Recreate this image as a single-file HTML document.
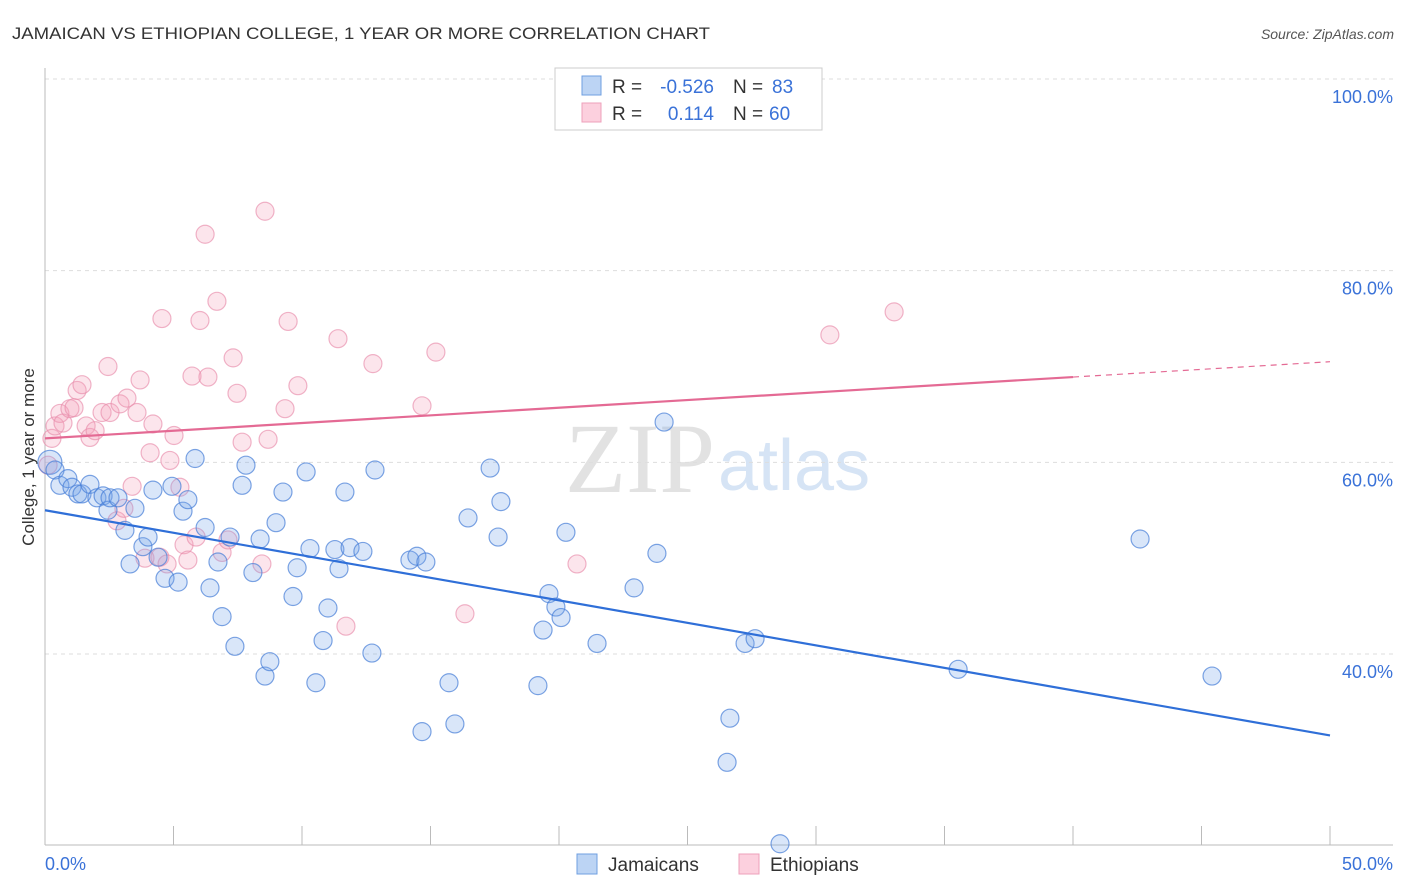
<!DOCTYPE html>
<html><head><meta charset="utf-8"><style>
body{margin:0;background:#fff;font-family:"Liberation Sans",sans-serif}
svg{display:block}
</style></head><body>
<svg id="chart" width="1406" height="892">
<text x="12" y="39" font-size="17" fill="#333" textLength="698" lengthAdjust="spacingAndGlyphs">JAMAICAN VS ETHIOPIAN COLLEGE, 1 YEAR OR MORE CORRELATION CHART</text>
<text x="1394" y="39" font-size="14" fill="#555" font-style="italic" text-anchor="end">Source: ZipAtlas.com</text>
<text x="715" y="492" font-size="100" fill="#e2e2e2" text-anchor="end" font-family="Liberation Serif,serif">ZIP</text>
<text x="718" y="490" font-size="72" fill="#d6e4f5">atlas</text>
<text transform="translate(34,457) rotate(-90)" font-size="17" fill="#333" text-anchor="middle">College, 1 year or more</text>
<g id="grid"></g><g id="pts"></g><g id="lines"></g>
<g>
<rect x="555" y="68" width="267" height="62" fill="#fff" stroke="#ccc"/>
<rect x="582" y="76" width="19" height="19" fill="#bcd4f4" stroke="#6f9fe0"/>
<rect x="582" y="103" width="19" height="19" fill="#fcd0de" stroke="#eea0bb"/>
<text x="612" y="93" font-size="19" fill="#333">R =</text>
<text x="714" y="93" font-size="19" fill="#3a72d8" text-anchor="end">-0.526</text>
<text x="733" y="93" font-size="19" fill="#333">N =</text>
<text x="772" y="93" font-size="19" fill="#3a72d8">83</text>
<text x="612" y="120" font-size="19" fill="#333">R =</text>
<text x="714" y="120" font-size="19" fill="#3a72d8" text-anchor="end">0.114</text>
<text x="733" y="120" font-size="19" fill="#333">N =</text>
<text x="769" y="120" font-size="19" fill="#3a72d8">60</text>
</g>
<g>
<rect x="577" y="854" width="20" height="20" fill="#bcd4f4" stroke="#6f9fe0"/>
<text x="608" y="871" font-size="19" fill="#333">Jamaicans</text>
<rect x="739" y="854" width="20" height="20" fill="#fcd0de" stroke="#eea0bb"/>
<text x="770" y="871" font-size="19" fill="#333">Ethiopians</text>
</g>
</svg>
<script>
const yTicks=[40,60,80,100];
const yTickLabels=["40.0%","60.0%","80.0%","100.0%"];
const xTickLabels=["0.0%","50.0%"];
const blueX=[0.19,0.39,0.58,0.89,1.05,1.28,1.44,1.75,2.02,2.26,2.45,2.53,2.84,3.11,3.31,3.50,3.81,4.01,4.20,4.40,4.67,4.94,5.18,5.37,5.56,5.84,6.23,6.42,6.73,6.89,7.20,7.39,7.67,7.82,8.09,8.37,8.56,8.75,8.99,9.26,9.65,9.81,10.16,10.31,10.54,10.82,11.01,11.28,11.44,11.67,11.87,12.37,12.72,12.84,14.20,14.47,14.67,14.82,15.72,15.95,16.46,17.32,17.63,17.74,19.18,19.38,19.61,19.88,20.08,20.27,21.48,22.92,23.81,24.09,26.54,26.65,27.24,27.63,28.60,35.53,42.61,45.41];
const blueY=[60.0,59.2,57.6,58.3,57.4,56.7,56.7,57.7,56.3,56.5,55.0,56.3,56.3,52.9,49.4,55.2,51.2,52.2,57.1,50.1,47.9,57.5,47.5,54.9,56.1,60.4,53.2,46.9,49.6,43.9,52.2,40.8,57.6,59.7,48.5,52.0,37.7,39.2,53.7,56.9,46.0,49.0,59.0,51.0,37.0,41.4,44.8,50.9,48.9,56.9,51.1,50.7,40.1,59.2,49.8,50.2,31.9,49.6,37.0,32.7,54.2,59.4,52.2,55.9,36.7,42.5,46.3,44.9,43.8,52.7,41.1,46.9,50.5,64.2,28.7,33.3,41.1,41.6,20.2,38.4,52.0,37.7];
const pinkX=[0.12,0.27,0.39,0.58,0.70,0.97,1.13,1.25,1.44,1.60,1.75,1.95,2.22,2.45,2.53,2.80,2.92,3.07,3.19,3.39,3.58,3.70,3.89,4.09,4.20,4.47,4.55,4.75,4.86,5.02,5.25,5.41,5.56,5.72,5.88,6.03,6.23,6.34,6.69,6.89,7.12,7.32,7.47,7.67,8.44,8.56,8.68,9.34,9.46,9.84,11.40,11.71,12.76,14.67,15.21,16.34,20.70,30.54,33.04];
const pinkY=[59.7,62.5,63.8,65.1,64.1,65.6,65.7,67.5,68.1,63.8,62.6,63.3,65.2,70.0,65.2,53.9,66.1,55.2,66.7,57.5,65.2,68.6,50.0,61.0,64.0,50.1,75.0,49.4,60.2,62.8,57.4,51.4,49.8,69.0,52.2,74.8,83.8,68.9,76.8,50.6,51.9,70.9,67.2,62.1,49.4,86.2,62.4,65.6,74.7,68.0,72.9,42.9,70.3,65.9,71.5,44.2,49.4,73.3,75.7];
const blueTrend=[55.0,31.5];
const pinkTrend=[62.5,70.5];
const NS="http://www.w3.org/2000/svg";
const L=45,R=1330,X0=0,X1=50;
const sx=v=>L+(v-X0)/(X1-X0)*(R-L);
const sy=v=>654-(v-40)*(575/60);
function mk(tag,attrs,parent){const e=document.createElementNS(NS,tag);for(const k in attrs)e.setAttribute(k,attrs[k]);parent.appendChild(e);return e;}
const grid=document.getElementById('grid');
yTicks.forEach((t,i)=>{
  const g=mk('line',{x1:L,x2:1393,y1:sy(t),y2:sy(t),stroke:'#ddd','stroke-dasharray':'4,4'},grid);
  
  
  const tx=mk('text',{x:1393,y:sy(t)+24,'font-size':18,fill:'#3a72d8','text-anchor':'end'},grid);
  tx.textContent=yTickLabels[i];
  
  
});
const ax=mk('line',{x1:L,x2:1393,y1:845,y2:845,stroke:'#bbb'},grid);


const ay=mk('line',{x1:L,x2:L,y1:68,y2:845,stroke:'#bbb'},grid);


for(let i=0;i<=10;i++){const v=i*5;
  const t=mk('line',{x1:sx(v),x2:sx(v),y1:826,y2:845,stroke:'#bbb'},grid);
  
  
}
[[0,'start'],[50,'end']].forEach((p,i)=>{
  const t=mk('text',{x:sx(p[0])+(i?63:0),y:870,'font-size':18,fill:'#3a72d8','text-anchor':p[1]},grid);
  t.textContent=xTickLabels[i];
  
  
});
const pts=document.getElementById('pts');
pinkX.forEach((x,i)=>{
  const c=mk('circle',{cx:sx(x),cy:sy(pinkY[i]),r:9,fill:'rgba(244,160,188,0.28)',stroke:'rgba(232,140,170,0.65)','stroke-width':1.2},pts);
  
  
});
blueX.forEach((x,i)=>{
  const c=mk('circle',{cx:sx(x),cy:sy(blueY[i]),r:i==0?12:9,fill:'rgba(120,165,235,0.28)',stroke:'rgba(70,125,215,0.7)','stroke-width':1.2},pts);
  
  
});
const lines=document.getElementById('lines');
const bl=mk('line',{x1:sx(0),y1:sy(blueTrend[0]),x2:sx(50),y2:sy(blueTrend[1]),stroke:'#2f6fd8','stroke-width':2.2},lines);


const pm=pinkTrend[0]+(pinkTrend[1]-pinkTrend[0])*0.8;
const pl=mk('line',{x1:sx(0),y1:sy(pinkTrend[0]),x2:sx(40),y2:sy(pm),stroke:'#e46a94','stroke-width':2.2},lines);


const pd=mk('line',{x1:sx(40),y1:sy(pm),x2:sx(50),y2:sy(pinkTrend[1]),stroke:'#e46a94','stroke-width':1.2,'stroke-dasharray':'6,5'},lines);


</script>
</body></html>
